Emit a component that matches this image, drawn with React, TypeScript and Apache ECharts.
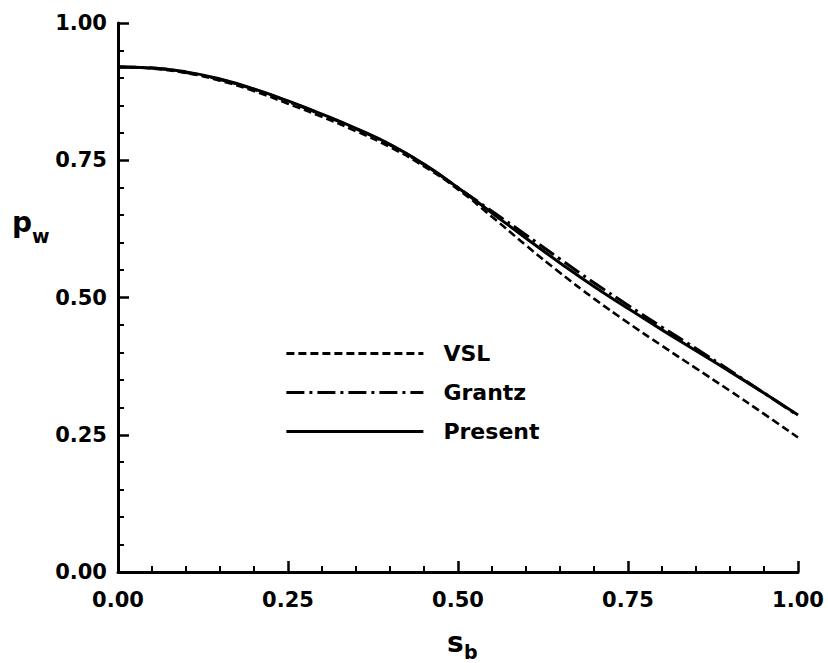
import React, { useEffect, useRef } from "react";
import * as echarts from "echarts";

const sB = [0, 0.05, 0.1, 0.15, 0.2, 0.25, 0.3, 0.35, 0.4, 0.45, 0.5, 0.55, 0.6, 0.65, 0.7, 0.75, 0.8, 0.85, 0.9, 0.95, 1.0];
const vsl = [0.920, 0.917, 0.909, 0.895, 0.876, 0.853, 0.829, 0.803, 0.774, 0.739, 0.697, 0.647, 0.595, 0.545, 0.498, 0.454, 0.412, 0.371, 0.330, 0.288, 0.245];
const grantz = [0.920, 0.918, 0.910, 0.897, 0.879, 0.857, 0.833, 0.807, 0.778, 0.742, 0.700, 0.657, 0.614, 0.570, 0.527, 0.486, 0.446, 0.407, 0.367, 0.326, 0.285];
const present = [0.920, 0.918, 0.911, 0.898, 0.880, 0.858, 0.834, 0.808, 0.779, 0.743, 0.700, 0.654, 0.608, 0.563, 0.520, 0.480, 0.441, 0.403, 0.365, 0.326, 0.286];
const seriesNames = ["VSL", "Grantz", "Present"];

const FONT = "'DejaVu Sans', sans-serif";

export default function App() {
  const ref = useRef<HTMLDivElement>(null);
  useEffect(() => {
    if (!ref.current) return;
    const chart = echarts.init(ref.current, undefined, { renderer: "svg" });
    const pairs = (ys: number[]) => sB.map((x, i) => [x, ys[i]]);
    const axisCommon = {
      type: "value",
      min: 0,
      max: 1,
      interval: 0.25,
      axisLine: { show: true, lineStyle: { color: "#000", width: 3 } },
      axisTick: { show: true, inside: true, length: 11, lineStyle: { color: "#000", width: 2.5 } },
      minorTick: { show: true, splitNumber: 5, length: 6, lineStyle: { color: "#000", width: 2 } },
      splitLine: { show: false },
      minorSplitLine: { show: false },
      axisLabel: {
        color: "#000",
        fontFamily: FONT,
        fontWeight: "bold",
        fontSize: 21,
        formatter: (v: number) => v.toFixed(2),
      },
    };
    chart.setOption({
      animation: false,
      backgroundColor: "#fff",
      grid: { left: 118, right: 30, top: 23, bottom: 91, containLabel: false },
      xAxis: { ...axisCommon, axisLabel: { ...axisCommon.axisLabel, margin: 17 } },
      yAxis: { ...axisCommon, axisLabel: { ...axisCommon.axisLabel, margin: 11 } },
      legend: {
        orient: "vertical",
        left: 280,
        top: 336,
        itemWidth: 137,
        itemHeight: 14,
        itemGap: 14,
        data: seriesNames,
        itemStyle: { opacity: 0 },
        lineStyle: { width: 2.8 },
        textStyle: {
          color: "#000",
          fontFamily: FONT,
          fontWeight: "bold",
          fontSize: 22,
          lineHeight: 25,
          padding: [0, 0, 0, 15],
        },
      },
      series: [
        {
          name: seriesNames[0],
          type: "line",
          data: pairs(vsl),
          smooth: true,
          symbol: "none",
          lineStyle: { color: "#000", width: 2.6, type: [8, 4] },
          itemStyle: { color: "#000" },
        },
        {
          name: seriesNames[1],
          type: "line",
          data: pairs(grantz),
          smooth: true,
          symbol: "none",
          lineStyle: { color: "#000", width: 3, type: [18, 5, 3, 5] },
          itemStyle: { color: "#000" },
        },
        {
          name: seriesNames[2],
          type: "line",
          data: pairs(present),
          smooth: true,
          symbol: "none",
          lineStyle: { color: "#000", width: 3, type: "solid" },
          itemStyle: { color: "#000" },
        },
      ],
      graphic: [
        { type: "text", x: 12, y: 222, style: { text: "p", font: `bold 28px ${FONT}`, fill: "#000", verticalAlign: "middle" } },
        { type: "text", x: 32, y: 236, style: { text: "w", font: `bold 19px ${FONT}`, fill: "#000", verticalAlign: "middle" } },
        { type: "text", x: 447, y: 642, style: { text: "s", font: `bold 28px ${FONT}`, fill: "#000", verticalAlign: "middle" } },
        { type: "text", x: 464, y: 652, style: { text: "b", font: `bold 19px ${FONT}`, fill: "#000", verticalAlign: "middle" } },
      ],
    });
    return () => chart.dispose();
  }, []);
  return <div ref={ref} style={{ position: "absolute", left: 0, top: 0, width: 828, height: 663 }} />;
}
